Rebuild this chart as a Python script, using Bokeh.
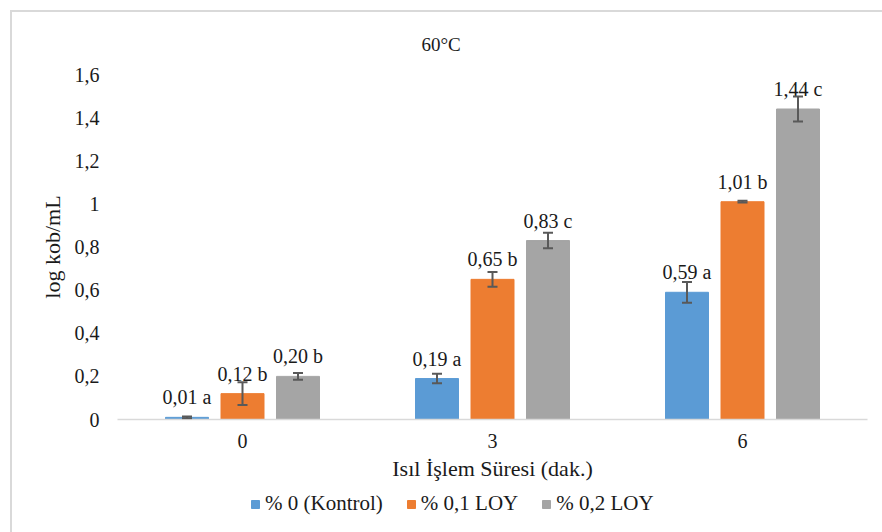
from bokeh.plotting import figure
from bokeh.layouts import column
from bokeh.models import (ColumnDataSource, FactorRange, Whisker, TeeHead, Legend,
                          LegendItem, FixedTicker)
from bokeh.transform import dodge
from bokeh.core.properties import value
from bokeh.embed import file_html
from bokeh.resources import INLINE

# Heat treatment time (minutes)
categories = ["0", "3", "6"]

series_names = ["% 0 (Kontrol)", "% 0,1 LOY", "% 0,2 LOY"]
series_colors = ["#5B9BD5", "#ED7D31", "#A5A5A5"]

kontrol = [0.01, 0.19, 0.59]
loy_01 = [0.12, 0.65, 1.01]
loy_02 = [0.20, 0.83, 1.44]

kontrol_err = [0.004, 0.022, 0.048]
loy_01_err = [0.053, 0.034, 0.004]
loy_02_err = [0.016, 0.036, 0.058]

kontrol_letters = ["a", "a", "a"]
loy_01_letters = ["b", "b", "b"]
loy_02_letters = ["b", "c", "c"]

y_ticks = [0, 0.2, 0.4, 0.6, 0.8, 1, 1.2, 1.4, 1.6]
y_tick_labels = ["0", "0,2", "0,4", "0,6", "0,8", "1", "1,2", "1,4", "1,6"]

FONT = "Liberation Serif"
TEXT = "#1a1a1a"

p = figure(width=870, height=476, x_range=FactorRange(*categories, range_padding=0),
           y_range=(0, 1.6), output_backend="svg", toolbar_location=None,
           min_border_left=105, min_border_right=15, min_border_top=60,
           min_border_bottom=69)
p.outline_line_color = None
p.xgrid.grid_line_color = None
p.ygrid.grid_line_color = None

p.title.text = "60°C"
p.title.text_font = FONT
p.title.text_font_size = "19px"
p.title.text_font_style = "normal"
p.title.text_color = TEXT
p.title.align = "left"
p.title.offset = 304
p.title.standoff = 39

offsets = [-0.222, 0.0, 0.222]
bar_w = 0.172
series = [(kontrol, kontrol_err, kontrol_letters),
          (loy_01, loy_01_err, loy_01_letters),
          (loy_02, loy_02_err, loy_02_letters)]

# legend strip drawn below the chart; its swatch renderers sit outside the view
lg = figure(width=870, height=44, x_axis_type=None, y_axis_type=None,
            x_range=(0, 1), y_range=(0, 1), output_backend="svg",
            toolbar_location=None, min_border=0)
lg.outline_line_color = None
lg.xgrid.visible = False
lg.ygrid.visible = False

items = []
for (vals, errs, letters), off, color, name in zip(series, offsets, series_colors, series_names):
    src = ColumnDataSource(dict(
        cat=categories,
        val=vals,
        upper=[v + e for v, e in zip(vals, errs)],
        lower=[v - e for v, e in zip(vals, errs)],
        lab=[f"{v:.2f}".replace(".", ",") + " " + l for v, l in zip(vals, letters)],
    ))
    p.vbar(x=dodge("cat", off, range=p.x_range), top="val", width=bar_w,
           source=src, fill_color=color, line_color=color)
    w = Whisker(source=src, base=dodge("cat", off, range=p.x_range), upper="upper",
                lower="lower", line_color="#595959", line_width=2, level="overlay",
                upper_head=TeeHead(size=10, line_color="#595959", line_width=2),
                lower_head=TeeHead(size=10, line_color="#595959", line_width=2))
    p.add_layout(w)
    p.text(x=dodge("cat", off, range=p.x_range), y="val", text="lab", source=src,
           text_font=value(FONT), text_font_size="20px", text_color=TEXT,
           text_align="center", text_baseline="middle", y_offset=-20)
    swatch = lg.vbar(x=[-5], top=[-5], width=0.1, fill_color=color, line_color=color)
    items.append(LegendItem(label=name, renderers=[swatch]))

# axes
p.xaxis.axis_line_color = "#d9d9d9"
p.xaxis.axis_line_width = 1.5
p.xaxis.major_tick_line_color = None
p.xaxis.minor_tick_line_color = None
p.xaxis.major_tick_out = 0
p.xaxis.major_label_text_font = FONT
p.xaxis.major_label_text_font_size = "20px"
p.xaxis.major_label_text_color = TEXT
p.xaxis.major_label_standoff = 14
p.xaxis.axis_label = "Isıl İşlem Süresi (dak.)"
p.xaxis.axis_label_text_font = FONT
p.xaxis.axis_label_text_font_size = "22px"
p.xaxis.axis_label_text_font_style = "normal"
p.xaxis.axis_label_text_color = TEXT
p.xaxis.axis_label_standoff = 5

p.yaxis.ticker = FixedTicker(ticks=y_ticks)
p.yaxis.major_label_overrides = dict(zip(y_ticks, y_tick_labels))
p.yaxis.axis_line_color = None
p.yaxis.major_tick_line_color = None
p.yaxis.minor_tick_line_color = None
p.yaxis.major_tick_out = 0
p.yaxis.major_label_text_font = FONT
p.yaxis.major_label_text_font_size = "20px"
p.yaxis.major_label_text_color = TEXT
p.yaxis.major_label_standoff = 18
p.yaxis.axis_label = "log kob/mL"
p.yaxis.axis_label_text_font = FONT
p.yaxis.axis_label_text_font_size = "22px"
p.yaxis.axis_label_text_font_style = "normal"
p.yaxis.axis_label_text_color = TEXT
p.yaxis.axis_label_standoff = 7

legend = Legend(items=items, orientation="horizontal", location=(133, 16),
                label_text_font=FONT, label_text_font_size="21px",
                label_text_color=TEXT, glyph_width=10, glyph_height=10,
                label_standoff=5, spacing=23, padding=0, margin=0,
                border_line_color=None, background_fill_alpha=0)
lg.add_layout(legend, "center")

layout = column(p, lg, spacing=0, margin=(10, 0, 0, 10),
                styles={"border-left": "2px solid #d9d9d9",
                        "border-top": "2px solid #d9d9d9"})

open("out.html", "w").write(file_html(layout, INLINE))
